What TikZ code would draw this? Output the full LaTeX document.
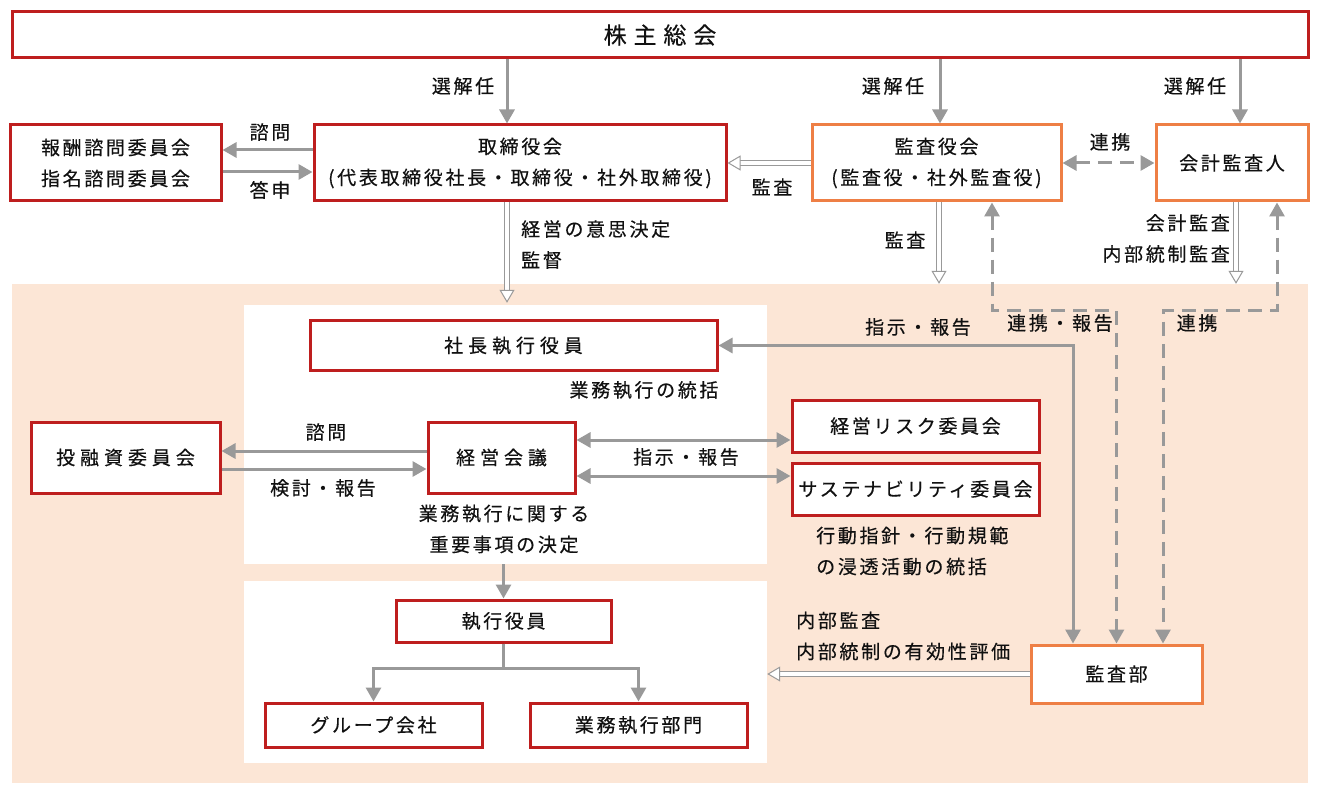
\documentclass[tikz,border=0pt]{standalone}
\usepackage{fontspec}
\setmainfont{Noto Sans CJK JP}[LetterSpace=14,FakeBold=0.4]
\newfontfamily\widefont{Noto Sans CJK JP}[LetterSpace=26,FakeBold=0.4]
\newfontfamily\titlefont{Noto Sans CJK JP}[LetterSpace=30,FakeBold=0.4]
\usetikzlibrary{arrows.meta}
\definecolor{boxred}{HTML}{BE1E1E}
\definecolor{boxorange}{HTML}{EE7F45}
\definecolor{linegray}{HTML}{999999}
\definecolor{peach}{HTML}{FCE6D6}
\definecolor{ink}{HTML}{111111}
\tikzset{
  redbox/.style={draw=boxred, line width=3pt, fill=white, inner sep=0pt, align=center, text=ink},
  orangebox/.style={redbox, draw=boxorange},
  widebox/.style={redbox, font=\widefont\fontsize{19}{31}\selectfont},
  lbl/.style={inner sep=0pt, text=ink, align=center},
  arrow/.style={draw=linegray, line width=3pt, -{Triangle[length=14pt,width=15pt]}},
  biarrow/.style={draw=linegray, line width=3pt, {Triangle[length=14pt,width=15pt]}-{Triangle[length=14pt,width=15pt]}},
  dasharrow/.style={biarrow, dash pattern=on 14pt off 8pt},
  hollow/.style={draw=linegray, line width=1pt, double=white, double distance=4pt,
    -{Triangle[open,fill=white,length=13pt,width=15pt]}},
}
\begin{document}
\begin{tikzpicture}[x=1pt,y=-1pt,font=\fontsize{19}{31}\selectfont]
  \useasboundingbox (0,0) rectangle (1320,794);
  % panels
  \node[fill=peach, inner sep=0pt, minimum width=1296pt, minimum height=499pt] (bg) at (660,533.5) {};
  \node[fill=white, inner sep=0pt, minimum width=523pt, minimum height=259pt] (panelA) at (505.5,434.5) {};
  \node[fill=white, inner sep=0pt, minimum width=523pt, minimum height=182pt] (panelB) at (505.5,672) {};
  % boxes
  \node[redbox, minimum width=1296pt, minimum height=46pt, font=\titlefont\fontsize{23}{28}\selectfont] (soukai) at (660,35) {株主総会};
  \node[redbox, minimum width=211pt, minimum height=76pt] (hoshu) at (115.5,163) {報酬諮問委員会\\指名諮問委員会};
  \node[redbox, minimum width=412pt, minimum height=76pt] (torishimari) at (520,163) {取締役会\\(代表取締役社長・取締役・社外取締役)};
  \node[orangebox, minimum width=249pt, minimum height=76pt] (kansayaku) at (936.5,163) {監査役会\\(監査役・社外監査役)};
  \node[orangebox, minimum width=152pt, minimum height=76pt] (kaikei) at (1232,163) {会計監査人};
  \node[widebox, minimum width=407pt, minimum height=49pt] (shacho) at (513.5,345.5) {社長執行役員};
  \node[widebox, minimum width=189pt, minimum height=71pt] (toyushi) at (125.5,457.5) {投融資委員会};
  \node[widebox, minimum width=147pt, minimum height=71pt] (keiei) at (501.5,457.5) {経営会議};
  \node[redbox, minimum width=247pt, minimum height=52pt] (risk) at (915.5,426) {経営リスク委員会};
  \node[redbox, minimum width=247pt, minimum height=52pt] (sustain) at (915.5,489) {サステナビリティ委員会};
  \node[redbox, minimum width=215pt, minimum height=42pt] (shikko) at (503.5,621) {執行役員};
  \node[redbox, minimum width=217pt, minimum height=44pt] (group) at (373.5,725) {グループ会社};
  \node[redbox, minimum width=217pt, minimum height=44pt] (gyomu) at (638.5,725) {業務執行部門};
  \node[orangebox, minimum width=171pt, minimum height=58pt] (kansabu) at (1116.5,674) {監査部};
  % labels
  \node[lbl] (sen1) at (463,86) {選解任};
  \node[lbl] (sen2) at (893,86) {選解任};
  \node[lbl] (sen3) at (1195,86) {選解任};
  \node[lbl] (shimon1) at (270,132) {諮問};
  \node[lbl] (toshin) at (270,190) {答申};
  \node[lbl] (kansa1) at (772,187) {監査};
  \node[lbl] (renkei1) at (1110,142) {連携};
  \node[lbl, anchor=west, align=left] (ishi) at (521,244.5) {経営の意思決定\\監督};
  \node[lbl] (kansa2) at (905,240) {監査};
  \node[lbl, anchor=east, align=right] (kaikeiL) at (1230,238.5) {会計監査\\内部統制監査};
  \node[lbl] (shiji1) at (918,327) {指示・報告};
  \node[lbl] (renkei2) at (1060,323) {連携・報告};
  \node[lbl] (renkei3) at (1197,323) {連携};
  \node[lbl] (tokatsu) at (644,390) {業務執行の統括};
  \node[lbl] (shimon2) at (326,432) {諮問};
  \node[lbl] (kento) at (323,488) {検討・報告};
  \node[lbl] (shiji2) at (686,457) {指示・報告};
  \node[lbl] (juyo) at (504,529) {業務執行に関する\\重要事項の決定};
  \node[lbl, anchor=west, align=left] (kodo) at (816,551) {行動指針・行動規範\\の浸透活動の統括};
  \node[lbl, anchor=west, align=left] (naibu) at (796,636) {内部監査\\内部統制の有効性評価};
  % connectors
  \draw[arrow] ([xshift=-13pt]torishimari.north |- soukai.south) -- ([xshift=-13pt]torishimari.north);
  \draw[arrow] ([xshift=3.5pt]kansayaku.north |- soukai.south) -- ([xshift=3.5pt]kansayaku.north);
  \draw[arrow] ([xshift=8pt]kaikei.north |- soukai.south) -- ([xshift=8pt]kaikei.north);
  \draw[arrow] ([yshift=13pt]torishimari.west) -- ([yshift=13pt]torishimari.west -| hoshu.east);
  \draw[arrow] ([yshift=-9pt]hoshu.east) -- ([yshift=-9pt]hoshu.east -| torishimari.west);
  \draw[hollow] (kansayaku.west) -- (torishimari.east);
  \draw[dasharrow] (kansayaku.east) -- (kaikei.west);
  \draw[hollow] ([xshift=-13pt]torishimari.south) -- ([xshift=-13pt,yshift=2pt]torishimari.south |- panelA.north);
  \draw[hollow] ([xshift=2.5pt]kansayaku.south) -- ([xshift=2.5pt]kansayaku.south |- bg.north);
  \draw[hollow] ([xshift=4pt]kaikei.south) -- ([xshift=4pt]kaikei.south |- bg.north);
  \draw[dasharrow] ([xshift=55.5pt]kansayaku.south) -- ++(0,108) -| (kansabu.north);
  \draw[dasharrow] ([xshift=45pt]kaikei.south) -- ++(0,108) -| ([xshift=46.5pt]kansabu.north);
  \draw[biarrow] ([xshift=-43.5pt]kansabu.north) |- (shacho.east);
  \draw[arrow] ([yshift=6.5pt]keiei.west) -- ([yshift=6.5pt]keiei.west -| toyushi.east);
  \draw[arrow] ([yshift=-11.5pt]toyushi.east) -- ([yshift=-11.5pt]toyushi.east -| keiei.west);
  \draw[biarrow] ([yshift=17.5pt]keiei.east) -- ([yshift=17.5pt]keiei.east -| risk.west);
  \draw[biarrow] ([yshift=-18.5pt]keiei.east) -- ([yshift=-18.5pt]keiei.east -| sustain.west);
  \draw[arrow] (panelA.south -| shikko.north) -- (shikko.north);
  \draw[arrow] (shikko.south) -- ++(0,25) -| (group.north);
  \draw[arrow] (shikko.south) -- ++(0,25) -| (gyomu.north);
  \draw[hollow] (kansabu.west) -- (kansabu.west -| panelB.east);
\end{tikzpicture}
\end{document}
